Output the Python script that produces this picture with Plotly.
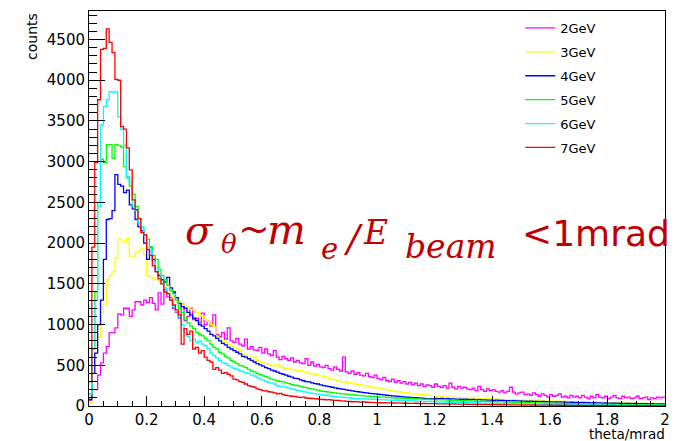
import numpy as np
import plotly.graph_objects as go

labels = ["2GeV", "3GeV", "4GeV", "5GeV", "6GeV", "7GeV"]
colors = ["#ff00ff", "#ffff00", "#0000ff", "#00ff00", "#00ffff", "#ff0000"]
x_min, x_max, n_bins = 0.0, 2.0, 200

counts_2gev = [
    70, 200, 200, 380, 530, 650, 730, 900, 900, 960,
    1130, 1120, 1200, 1200, 1100, 1180, 1280, 1280, 1240, 1300,
    1270, 1330, 1260, 1180, 1390, 1250, 1430, 1340, 1330, 1200,
    1150, 1080, 1250, 1050, 1100, 1200, 1060, 1080, 1020, 1140,
    1000, 1040, 980, 1120, 880, 850, 900, 820, 960, 800,
    780, 830, 760, 740, 820, 700, 730, 690, 680, 720,
    650, 700, 640, 620, 680, 600, 570, 610, 580, 560,
    590, 540, 560, 530, 520, 580, 500, 540, 490, 510,
    480, 470, 500, 460, 440, 480, 450, 430, 600, 420,
    400, 430, 390, 410, 380, 370, 400, 360, 350, 380,
    340, 320, 350, 310, 300, 330, 290, 310, 280, 300,
    270, 290, 260, 280, 250, 270, 240, 260, 250, 230,
    270, 240, 230, 250, 220, 280, 230, 210, 240, 220,
    230, 210, 200, 220, 190, 240, 200, 180, 210, 190,
    200, 180, 170, 190, 160, 180, 230, 170, 150, 160,
    170, 140, 150, 130, 160, 140, 120, 150, 130, 110,
    140, 120, 130, 150, 110, 120, 100, 130, 110, 120,
    100, 130, 110, 90, 120, 100, 140, 110, 100, 120,
    90, 110, 130, 100, 90, 120, 100, 110, 90, 100,
    120, 90, 100, 110, 80, 100, 90, 110, 100, 110,
]

counts_3gev = [
    40, 480, 650, 850, 1150, 1250, 1550, 1600, 1650, 1820,
    2050, 2040, 2010, 2060, 1840, 1840, 1880, 1900, 1930, 1850,
    1600, 1580, 1560, 1550, 1540, 1510, 1500, 1480, 1350, 1330,
    1300, 1270, 1250, 1230, 1210, 1190, 1180, 1150, 1120, 1100,
    1060, 1040, 1000, 970, 850, 830, 800, 780, 760, 740,
    720, 700, 680, 640, 620, 600, 580, 600, 560, 540,
    530, 520, 510, 500, 490, 505, 480, 470, 460, 455,
    450, 440, 430, 435, 420, 410, 400, 395, 390, 380,
    370, 360, 350, 340, 330, 320, 310, 300, 295, 290,
    285, 280, 270, 265, 260, 250, 245, 240, 230, 225,
    220, 210, 205, 200, 190, 185, 180, 175, 170, 165,
    160, 155, 150, 148, 145, 140, 135, 132, 128, 125,
    122, 118, 115, 112, 110, 108, 105, 110, 102, 100,
    100, 98, 96, 95, 92, 94, 90, 88, 90, 86,
    85, 84, 82, 80, 82, 78, 76, 78, 74, 73,
    72, 70, 72, 68, 66, 68, 64, 62, 64, 60,
    60, 58, 59, 56, 55, 57, 53, 52, 54, 50,
    50, 48, 50, 46, 47, 45, 46, 43, 44, 42,
    42, 40, 41, 39, 40, 37, 38, 36, 37, 35,
    35, 34, 35, 32, 33, 31, 32, 30, 31, 29,
]

counts_4gev = [
    80, 400, 650, 1000, 1300, 1800, 2290, 2300, 2400, 2840,
    2720, 2700, 2620, 2650, 2470, 2420, 2290, 2200, 2150, 2000,
    1800, 1950, 1800, 1650, 1600, 1550, 1520, 1580, 1450, 1400,
    1330, 1260, 1220, 1200, 1150, 1120, 1080, 1050, 1000, 980,
    950, 920, 880, 860, 830, 800, 770, 750, 720, 700,
    680, 660, 640, 610, 600, 580, 560, 540, 520, 505,
    490, 470, 460, 440, 430, 415, 400, 390, 380, 365,
    355, 340, 335, 320, 310, 300, 295, 285, 275, 270,
    260, 250, 245, 238, 230, 222, 215, 210, 205, 198,
    192, 186, 180, 175, 170, 165, 160, 156, 152, 148,
    144, 140, 136, 132, 128, 125, 122, 118, 115, 112,
    110, 106, 104, 101, 98, 96, 94, 91, 89, 87,
    92, 90, 94, 88, 90, 86, 88, 84, 85, 82,
    84, 80, 78, 81, 76, 78, 74, 75, 72, 73,
    70, 72, 68, 69, 66, 67, 64, 65, 62, 63,
    60, 61, 58, 59, 56, 57, 54, 55, 52, 53,
    50, 51, 49, 50, 47, 48, 45, 46, 44, 45,
    42, 43, 41, 42, 39, 40, 38, 39, 36, 37,
    35, 36, 34, 35, 32, 33, 31, 32, 30, 31,
    29, 30, 28, 29, 27, 28, 26, 27, 25, 26,
]

counts_5gev = [
    150, 700, 1400, 2500, 3030, 2990, 3210, 3210, 3040, 3210,
    3200, 3180, 2940, 2800, 2700, 2600, 2450, 2300, 2200, 2100,
    2050, 1950, 1850, 1800, 1680, 1600, 1550, 1480, 1420, 1380,
    1300, 1200, 1150, 1080, 1020, 980, 950, 900, 880, 860,
    830, 800, 760, 720, 700, 660, 640, 610, 590, 560,
    540, 520, 500, 490, 470, 450, 430, 420, 400, 385,
    370, 360, 345, 330, 320, 310, 300, 295, 285, 275,
    265, 255, 250, 240, 230, 225, 215, 210, 200, 195,
    185, 180, 175, 170, 165, 160, 155, 150, 148, 145,
    140, 138, 135, 130, 128, 125, 122, 120, 118, 115,
    112, 110, 108, 105, 103, 100, 98, 96, 95, 92,
    90, 92, 88, 86, 87, 84, 82, 83, 80, 78,
    77, 76, 74, 75, 72, 70, 71, 68, 67, 66,
    65, 64, 62, 63, 60, 58, 59, 56, 55, 54,
    53, 52, 50, 51, 48, 47, 48, 45, 44, 45,
    43, 42, 40, 41, 39, 38, 39, 36, 35, 36,
    34, 33, 34, 31, 32, 30, 31, 29, 28, 29,
    27, 26, 27, 25, 24, 25, 23, 22, 23, 21,
    21, 20, 21, 19, 18, 19, 17, 18, 16, 17,
    16, 15, 16, 14, 15, 14, 13, 14, 12, 13,
]

counts_6gev = [
    150, 700, 1300, 2450, 3450, 3680, 3760, 3860, 3850, 3860,
    3550, 3400, 3200, 2820, 2750, 2450, 2400, 2250, 2200, 2100,
    2000, 1900, 1780, 1700, 1620, 1500, 1450, 1380, 1300, 1220,
    1160, 1100, 1000, 900, 850, 800, 820, 780, 800, 760,
    740, 700, 650, 620, 590, 560, 530, 520, 500, 480,
    460, 450, 430, 420, 410, 400, 380, 370, 350, 330,
    320, 300, 290, 280, 270, 250, 240, 235, 230, 220,
    210, 200, 190, 185, 175, 170, 160, 155, 150, 145,
    140, 135, 130, 125, 120, 118, 112, 110, 105, 100,
    98, 95, 92, 90, 88, 86, 85, 84, 82, 81,
    80, 78, 75, 76, 72, 70, 72, 68, 66, 65,
    64, 65, 62, 60, 61, 58, 57, 56, 55, 54,
    52, 50, 51, 49, 48, 46, 47, 45, 44, 43,
    42, 40, 41, 38, 39, 37, 36, 35, 36, 34,
    33, 32, 33, 30, 31, 29, 30, 28, 27, 28,
    26, 25, 26, 24, 25, 23, 22, 24, 21, 22,
    20, 21, 19, 20, 18, 19, 17, 18, 16, 17,
    16, 15, 16, 14, 15, 14, 13, 14, 13, 12,
    13, 12, 11, 12, 11, 10, 11, 10, 10, 9,
    10, 9, 9, 8, 9, 8, 8, 7, 8, 7,
]

counts_7gev = [
    300, 1950, 2990, 3760, 4380, 4390, 4630, 4465, 4340, 4010,
    4000, 3430, 3400, 3170, 2900, 2530, 2410, 2300, 2130, 2100,
    1920, 1850, 1720, 1650, 1560, 1500, 1400, 1380, 1300, 1240,
    1180, 1120, 760, 950, 880, 920, 700, 720, 650, 680,
    600, 560, 540, 450, 470, 440, 400, 410, 390, 370,
    330, 320, 300, 290, 270, 250, 240, 230, 210, 200,
    190, 185, 175, 170, 160, 150, 155, 140, 130, 125,
    120, 118, 110, 105, 108, 98, 95, 92, 90, 86,
    82, 80, 76, 78, 72, 70, 68, 64, 62, 58,
    55, 52, 54, 50, 48, 50, 46, 45, 44, 42,
    42, 40, 41, 38, 39, 37, 36, 38, 35, 34,
    34, 33, 32, 34, 31, 30, 31, 29, 28, 29,
    28, 27, 26, 27, 25, 24, 25, 23, 22, 23,
    22, 21, 20, 21, 19, 20, 18, 19, 17, 18,
    17, 16, 17, 15, 16, 14, 15, 14, 13, 14,
    13, 12, 13, 11, 12, 11, 10, 11, 10, 10,
    9, 10, 9, 9, 8, 9, 8, 8, 7, 8,
    7, 7, 6, 7, 6, 6, 7, 5, 6, 6,
    5, 6, 5, 5, 4, 5, 5, 4, 5, 4,
    4, 4, 5, 3, 4, 4, 3, 4, 3, 4,
]

series = [counts_2gev, counts_3gev, counts_4gev, counts_5gev, counts_6gev, counts_7gev]

edges = np.linspace(x_min, x_max, n_bins + 1)

fig = go.Figure()
for name, col, cnt in zip(labels, colors, series):
    yv = list(cnt) + [cnt[-1]]
    fig.add_trace(go.Scatter(
        x=edges, y=yv, mode="lines", name=name,
        line=dict(color=col, width=1.3, shape="hv"),
        legendgroup=name,
    ))

W, H = 677, 441
ML, MR, MT, MB = 89, 7, 11, 35
PW, PH = W - ML - MR, H - MT - MB


def px_x(px):
    return (px - ML) / PW


def px_y(py):
    return (H - MB - py) / PH


font_main = "DejaVu Sans"
fig.update_layout(
    width=W, height=H,
    margin=dict(l=ML, r=MR, t=MT, b=MB),
    paper_bgcolor="white", plot_bgcolor="white",
    showlegend=True,
    legend=dict(
        x=px_x(524), y=px_y(13), xanchor="left", yanchor="top",
        bgcolor="rgba(255,255,255,0)", borderwidth=0,
        font=dict(family=font_main, size=13, color="black"),
        tracegroupgap=4, itemwidth=30,
    ),
    font=dict(family=font_main, size=15, color="black"),
)
fig.update_xaxes(
    range=[x_min, x_max], dtick=0.2, tick0=0,
    showgrid=False, zeroline=False,
    showline=True, linecolor="black", linewidth=1, mirror=True,
    ticks="inside", ticklen=10, tickcolor="black", tickwidth=1,
    minor=dict(ticks="inside", ticklen=5, dtick=0.05, tickcolor="black", showgrid=False),
    tickfont=dict(family=font_main, size=15),
)
fig.update_yaxes(
    range=[0, 4850], dtick=500, tick0=0,
    showgrid=False, zeroline=False,
    showline=True, linecolor="black", linewidth=1, mirror=True,
    ticks="inside", ticklen=16, tickcolor="black", tickwidth=1,
    minor=dict(ticks="inside", ticklen=8, dtick=100, tickcolor="black", showgrid=False),
    tickfont=dict(family=font_main, size=15),
)

fig.add_annotation(
    text="counts", xref="paper", yref="paper", x=px_x(31), y=px_y(11),
    xanchor="center", yanchor="top", textangle=-90, showarrow=False,
    font=dict(family=font_main, size=14, color="black"),
)
fig.add_annotation(
    text="theta/mrad", xref="paper", yref="paper", x=px_x(671), y=px_y(425),
    xanchor="right", yanchor="top", showarrow=False, borderpad=0,
    font=dict(family=font_main, size=13.5, color="black"),
)

# formula pieces: (text, family, size, italic, left px, box-centre px)
red = "#c00000"
serif = "DejaVu Serif"
formula = [
    ("σ", serif, 40, True, 185, 230),
    ("θ", serif, 26, True, 221, 244),
    ("~", serif, 38, False, 238, 229),
    ("m", serif, 41, True, 268, 230),
    ("e", serif, 29, True, 322, 249),
    ("/", serif, 38, True, 344, 238),
    ("E", serif, 33, True, 364, 232),
    ("beam", serif, 33, True, 407, 246),
    ("&lt;1mrad", "DejaVu Sans", 36, False, 525, 233),
]
for txt, fam, size, ital, left, cy in formula:
    fig.add_annotation(
        text=f"<i>{txt}</i>" if ital else txt,
        xref="paper", yref="paper", x=px_x(left), y=px_y(cy),
        xanchor="left", yanchor="middle", showarrow=False, borderpad=0,
        font=dict(family=fam, size=size, color=red),
    )

fig.write_html("out.html")
